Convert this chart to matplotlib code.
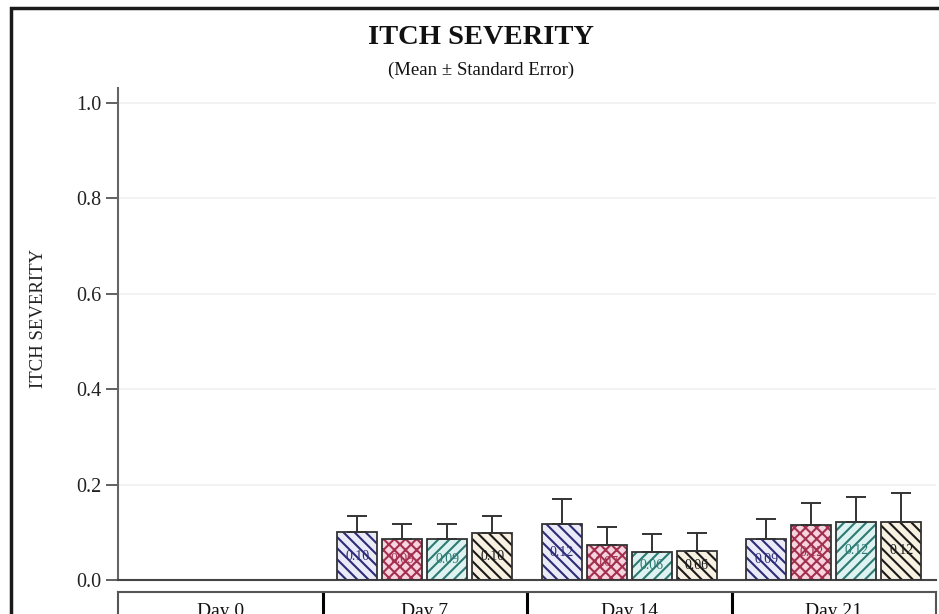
import matplotlib.pyplot as plt
from matplotlib.patches import Rectangle

plt.rcParams['font.family'] = ['Liberation Serif', 'DejaVu Serif']

days = ['Day 0', 'Day 7', 'Day 14', 'Day 21']
# Day 0 has no bars
means = [
    [None, 0.10, 0.117, 0.086],
    [None, 0.086, 0.074, 0.115],
    [None, 0.086, 0.059, 0.122],
    [None, 0.099, 0.061, 0.122],
]
upper = [
    [None, 0.134, 0.170, 0.127],
    [None, 0.117, 0.112, 0.162],
    [None, 0.117, 0.096, 0.173],
    [None, 0.134, 0.098, 0.183],
]
labels = [
    [None, '0.10', '0.12', '0.09'],
    [None, '0.09', '0.07', '0.12'],
    [None, '0.09', '0.06', '0.12'],
    [None, '0.10', '0.06', '0.12'],
]
fills = ['#ebebf8', '#f6d3de', '#def3f1', '#f8f1e2']
hatch_colors = ['#2c2c78', '#a3304f', '#2d7a74', '#1a1a1a']
hatches = ['\\\\\\', 'xxx', '///', '\\\\\\']
yticks = [0.0, 0.2, 0.4, 0.6, 0.8, 1.0]

W, H = 939, 614
fig = plt.figure(figsize=(W / 100, H / 100), dpi=100)

def px(x0, y0, x1, y1):
    return [x0 / W, 1 - y1 / H, (x1 - x0) / W, (y1 - y0) / H]

ax = fig.add_axes(px(118, 88, 936, 580))
ax.set_xlim(-0.5, 3.5)
ax.set_ylim(0, 1.031)

bw = 40 / 204.5
step = 45 / 204.5
plt.rcParams['hatch.linewidth'] = 1.5
for i in range(4):
    for d in range(4):
        m = means[i][d]
        if m is None:
            continue
        x = d + (i - 1.5) * step
        ax.bar(x, m, width=bw, color=fills[i], hatch=hatches[i],
               edgecolor=hatch_colors[i], linewidth=0, zorder=2)
        ax.bar(x, m, width=bw, fill=False, edgecolor='#333333', linewidth=1.3, zorder=3)
        ax.errorbar(x, m, yerr=[[0], [upper[i][d] - m]], fmt='none', ecolor='#333333',
                    elinewidth=1.4, capsize=7, capthick=1.4, zorder=4)
        ax.text(x, m / 2, labels[i][d], ha='center', va='center', fontsize=10,
                color=hatch_colors[i], zorder=5)

ax.set_yticks(yticks)
ax.set_yticklabels(['%.1f' % t for t in yticks], fontsize=14.5)
ax.yaxis.grid(True, color='#f0f0f0', linewidth=1.2, zorder=0)
ax.set_axisbelow(True)
ax.set_xticks([])
for s in ['top', 'right']:
    ax.spines[s].set_visible(False)
ax.spines['left'].set_color('#666666')
ax.spines['left'].set_linewidth(1.5)
ax.spines['bottom'].set_color('#444444')
ax.spines['bottom'].set_linewidth(1.5)
ax.tick_params(axis='y', length=9, width=1.3, color='#555555', labelcolor='#222222', pad=3)
ax.set_ylabel('ITCH SEVERITY', fontsize=13.5, color='#222222')
ax.yaxis.set_label_coords(47 / W, 1 - 318 / H, transform=fig.transFigure)

# day panel under the axis
ax2 = fig.add_axes(px(118, 592, 936, 640))
ax2.set_xlim(-0.5, 3.5)
ax2.set_ylim(0, 1)
ax2.set_xticks([])
ax2.set_yticks([])
for s in ax2.spines.values():
    s.set_color('#555555')
    s.set_linewidth(1.5)
for d in range(1, 4):
    ax2.axvline(d - 0.5, color='black', linewidth=2.2)
for d, name in enumerate(days):
    ax2.text(d, 0.78, name, ha='center', va='top', fontsize=14, color='#111111')

fig.text(481 / W, 1 - 37 / H, 'ITCH SEVERITY', ha='center', va='center',
         fontsize=20.5, fontweight='bold', color='#111111')
fig.text(481 / W, 1 - 70 / H, '(Mean \u00b1 Standard Error)', ha='center', va='center',
         fontsize=13.5, color='#111111')

# outer frame of the figure
fig.patches.append(Rectangle((11 / W, -0.1), 1.2, 1 - 8 / H + 0.1, transform=fig.transFigure,
                             fill=False, edgecolor='#1a1a1a', linewidth=2.5))

fig.savefig('out.png', dpi=100)
